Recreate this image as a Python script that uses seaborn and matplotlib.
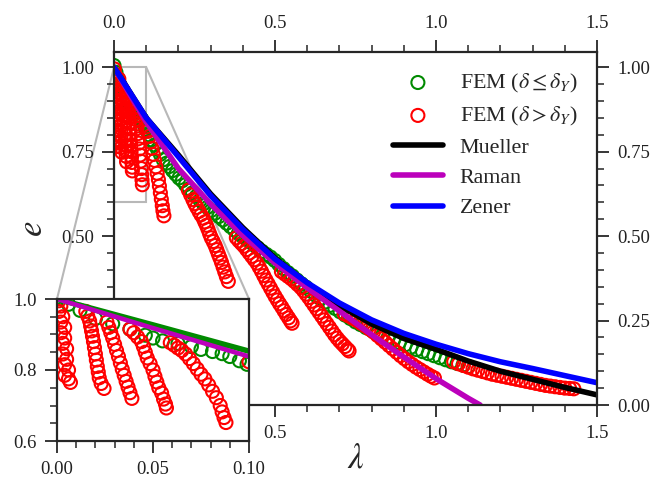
import numpy as np
import matplotlib
matplotlib.use('Agg')
import matplotlib.pyplot as plt
import seaborn as sns
from matplotlib.patches import Rectangle, ConnectionPatch
from matplotlib.ticker import MultipleLocator, FormatStrFormatter

# Modelos analiticos
mueller_lam = [0.0, 0.1, 0.2, 0.3, 0.4, 0.5, 0.6, 0.7, 0.8, 0.9, 1.0, 1.1, 1.2, 1.3, 1.4, 1.5]
mueller_e = [1.0, 0.85, 0.74, 0.625, 0.525, 0.435, 0.36, 0.295, 0.24, 0.197, 0.165, 0.13, 0.10, 0.076, 0.052, 0.03]

raman_lam = [0.0, 0.05, 0.1, 0.2, 0.3, 0.4, 0.5, 0.6, 0.7, 0.8, 0.9, 1.0, 1.1, 1.137]
raman_e = [1.0, 0.918, 0.838, 0.70, 0.595, 0.502, 0.42, 0.347, 0.278, 0.208, 0.142, 0.078, 0.02, 0.0]

zener_lam = [0.0, 0.1, 0.2, 0.3, 0.4, 0.5, 0.6, 0.7, 0.8, 0.9, 1.0, 1.1, 1.2, 1.3, 1.4, 1.5]
zener_e = [1.0, 0.85, 0.735, 0.62, 0.52, 0.432, 0.362, 0.302, 0.252, 0.212, 0.18, 0.152, 0.128, 0.108, 0.087, 0.066]

# linea verde del recuadro ampliado
inset_line_lam = [0.0, 0.05, 0.1]
inset_line_e = [1.0, 0.927, 0.853]

# FEM, delta <= delta_Y
green_lam = [0.000, 0.006, 0.012, 0.020, 0.029, 0.038, 0.046, 0.050, 0.055, 0.063, 0.070, 0.075, 0.081,
             0.086, 0.090, 0.095, 0.099, 0.108, 0.117, 0.126, 0.135, 0.144, 0.153, 0.163, 0.172, 0.182,
             0.192, 0.202, 0.212, 0.222, 0.233, 0.244, 0.256, 0.267, 0.278, 0.290, 0.302, 0.314, 0.326,
             0.338, 0.350, 0.362, 0.374, 0.386, 0.398, 0.410, 0.422, 0.434, 0.447, 0.460, 0.473, 0.486,
             0.499, 0.512, 0.526, 0.540, 0.554, 0.568, 0.582, 0.596, 0.611, 0.626, 0.641, 0.656, 0.671,
             0.686, 0.702, 0.718, 0.734, 0.750, 0.766, 0.783, 0.800, 0.817, 0.834, 0.851, 0.868, 0.886,
             0.904, 0.922, 0.940, 0.958, 0.976, 0.994, 1.012, 1.030, 1.048, 1.066, 1.084, 1.100]
green_e = [1.005, 0.985, 0.968, 0.945, 0.930, 0.915, 0.898, 0.890, 0.882, 0.875, 0.866, 0.858, 0.852,
           0.846, 0.838, 0.826, 0.816, 0.800, 0.785, 0.770, 0.757, 0.742, 0.726, 0.716, 0.706, 0.694,
           0.683, 0.672, 0.664, 0.652, 0.640, 0.628, 0.618, 0.606, 0.596, 0.585, 0.576, 0.568, 0.558,
           0.548, 0.538, 0.528, 0.518, 0.508, 0.500, 0.492, 0.484, 0.474, 0.465, 0.455, 0.446, 0.438,
           0.428, 0.416, 0.404, 0.392, 0.382, 0.370, 0.359, 0.349, 0.337, 0.325, 0.315, 0.305, 0.295,
           0.286, 0.276, 0.266, 0.256, 0.246, 0.238, 0.229, 0.221, 0.213, 0.206, 0.199, 0.192, 0.185,
           0.178, 0.171, 0.164, 0.158, 0.152, 0.146, 0.140, 0.134, 0.128, 0.123, 0.118, 0.114]

# FEM, delta > delta_Y (cadenas de puntos)
red_lam = [
    # A
    0.001, 0.002, 0.001, 0.003, 0.002, 0.004, 0.002, 0.004, 0.003, 0.005, 0.003, 0.005, 0.004, 0.006, 0.004, 0.006, 0.007,
    # B
    0.015, 0.016, 0.017, 0.0175, 0.018, 0.0185, 0.019, 0.0195, 0.020, 0.0205, 0.021, 0.0215, 0.022, 0.023, 0.0245,
    # C
    0.026, 0.027, 0.028, 0.029, 0.030, 0.031, 0.032, 0.033, 0.034, 0.035, 0.036, 0.037, 0.038, 0.039,
    # D
    0.038, 0.040, 0.042, 0.044, 0.045, 0.046, 0.047, 0.0485, 0.050, 0.051, 0.052, 0.053, 0.0545, 0.0555, 0.0565, 0.057,
    # E
    0.059, 0.061, 0.063, 0.065, 0.067, 0.069, 0.071, 0.073, 0.075, 0.077, 0.079, 0.081, 0.083, 0.085, 0.086, 0.087, 0.088,
    # F
    0.100, 0.105, 0.110, 0.114, 0.118, 0.122, 0.126, 0.130, 0.134, 0.138, 0.141, 0.144, 0.147, 0.150, 0.152, 0.155,
    # G
    0.231, 0.238, 0.245, 0.251, 0.257, 0.264, 0.270, 0.277, 0.282, 0.287, 0.292, 0.297, 0.302, 0.308, 0.314, 0.319,
    0.324, 0.329, 0.334, 0.339, 0.344, 0.349, 0.355,
    # H
    0.380, 0.388, 0.396, 0.404, 0.412, 0.420, 0.428, 0.436, 0.444, 0.451, 0.458, 0.465, 0.472, 0.479, 0.486, 0.493,
    0.500, 0.507, 0.514, 0.521, 0.528, 0.535, 0.542, 0.548, 0.553,
    # I
    0.520, 0.530, 0.540, 0.550, 0.560, 0.570, 0.580, 0.589, 0.597, 0.605, 0.613, 0.621, 0.629, 0.637, 0.645, 0.653,
    0.661, 0.669, 0.677, 0.685, 0.693, 0.701, 0.709, 0.717, 0.725, 0.730,
    # J
    0.715, 0.728, 0.741, 0.754, 0.767, 0.780, 0.793, 0.806, 0.818, 0.830, 0.842, 0.854, 0.866, 0.878, 0.890, 0.902,
    0.914, 0.926, 0.938, 0.950, 0.962, 0.974, 0.985, 0.995,
    # K
    1.055, 1.070, 1.085, 1.100, 1.115, 1.130, 1.145, 1.160, 1.175, 1.190, 1.205, 1.220, 1.235, 1.250, 1.265, 1.280,
    1.295, 1.310, 1.325, 1.340, 1.355, 1.370, 1.385, 1.400, 1.415, 1.428,
]
red_e = [
    0.995, 0.980, 0.965, 0.950, 0.935, 0.920, 0.905, 0.890, 0.875, 0.860, 0.845, 0.830, 0.815, 0.800, 0.785, 0.775, 0.765,
    0.965, 0.952, 0.938, 0.924, 0.910, 0.895, 0.880, 0.863, 0.845, 0.828, 0.810, 0.794, 0.778, 0.762, 0.748,
    0.935, 0.920, 0.905, 0.890, 0.872, 0.855, 0.838, 0.820, 0.802, 0.785, 0.768, 0.752, 0.736, 0.720,
    0.915, 0.905, 0.893, 0.880, 0.866, 0.850, 0.834, 0.818, 0.800, 0.782, 0.766, 0.750, 0.735, 0.718, 0.704, 0.693,
    0.877, 0.870, 0.862, 0.855, 0.845, 0.832, 0.818, 0.803, 0.788, 0.775, 0.758, 0.740, 0.722, 0.700, 0.682, 0.666, 0.652,
    0.823, 0.810, 0.795, 0.778, 0.760, 0.742, 0.724, 0.705, 0.686, 0.667, 0.648, 0.628, 0.609, 0.590, 0.575, 0.560,
    0.636, 0.622, 0.608, 0.596, 0.585, 0.573, 0.563, 0.553, 0.542, 0.532, 0.520, 0.507, 0.495, 0.484, 0.472, 0.460,
    0.447, 0.435, 0.422, 0.408, 0.394, 0.380, 0.366,
    0.495, 0.486, 0.478, 0.470, 0.460, 0.450, 0.440, 0.430, 0.420, 0.408, 0.396, 0.383, 0.370, 0.358, 0.346, 0.334,
    0.322, 0.311, 0.300, 0.290, 0.279, 0.268, 0.258, 0.249, 0.242,
    0.395, 0.388, 0.381, 0.374, 0.366, 0.357, 0.348, 0.338, 0.328, 0.318, 0.307, 0.296, 0.285, 0.274, 0.263, 0.252,
    0.241, 0.230, 0.219, 0.208, 0.198, 0.189, 0.181, 0.173, 0.165, 0.160,
    0.270, 0.264, 0.257, 0.250, 0.242, 0.234, 0.225, 0.216, 0.206, 0.196, 0.186, 0.176, 0.166, 0.156, 0.146, 0.137,
    0.128, 0.120, 0.112, 0.105, 0.098, 0.091, 0.085, 0.080,
    0.128, 0.122, 0.117, 0.112, 0.107, 0.103, 0.099, 0.095, 0.091, 0.088, 0.085, 0.082, 0.079, 0.076, 0.073, 0.070,
    0.067, 0.064, 0.061, 0.058, 0.056, 0.054, 0.052, 0.050, 0.049, 0.048,
]

sns.set_style('ticks')
plt.rcParams['font.family'] = ['Liberation Serif', 'DejaVu Serif']
plt.rcParams['mathtext.fontset'] = 'stix'

GREEN = '#008a00'
RED = '#ff0000'
MAGENTA = '#bb00bb'
BLUE = '#0000ff'
GRAY = '#b8b8b8'
TXT = '#222222'

fig = plt.figure(figsize=(6.54, 4.78), dpi=100)
ax = fig.add_axes([114 / 654, 1 - 405 / 478, (597 - 114) / 654, (405 - 52) / 478])
ax.patch.set_alpha(0)

scat_kw = dict(s=88, facecolor='none', linewidth=1.5, marker='o')
sns.scatterplot(x=green_lam, y=green_e, ax=ax, edgecolor=GREEN, label=r'FEM ($\delta\leq\delta_Y$)', **scat_kw)
sns.scatterplot(x=red_lam, y=red_e, ax=ax, edgecolor=RED, label=r'FEM ($\delta>\delta_Y$)', **scat_kw)
sns.lineplot(x=mueller_lam, y=mueller_e, ax=ax, color='black', lw=4, label='Mueller', estimator=None)
sns.lineplot(x=raman_lam, y=raman_e, ax=ax, color=MAGENTA, lw=4, label='Raman', estimator=None)
sns.lineplot(x=zener_lam, y=zener_e, ax=ax, color=BLUE, lw=4, label='Zener', estimator=None)

ax.add_patch(Rectangle((0, 0.6), 0.1, 0.4, fill=False, ec=GRAY, lw=1.5, zorder=0.5))

ax.set_xlim(0, 1.5)
ax.set_ylim(0, 1.045)
ax.xaxis.set_major_locator(MultipleLocator(0.5))
ax.xaxis.set_minor_locator(MultipleLocator(0.1))
ax.yaxis.set_major_locator(MultipleLocator(0.25))
ax.yaxis.set_minor_locator(MultipleLocator(0.05))
ax.xaxis.set_major_formatter(FormatStrFormatter('%.1f'))
ax.yaxis.set_major_formatter(FormatStrFormatter('%.2f'))
ax.tick_params(which='both', direction='out', top=True, right=True, labeltop=True, labelright=True,
               labelsize=13.5, labelcolor=TXT, pad=6)
ax.tick_params(which='major', length=8.5, width=1.3)
ax.tick_params(which='minor', length=4.7, width=1.1)
for sp in ax.spines.values():
    sp.set_visible(True)
    sp.set_linewidth(1.6)
ax.set_xlabel(r'$\lambda$', fontsize=25, labelpad=0)
ax.set_ylabel(r'$e$', fontsize=25, labelpad=8)

leg = ax.legend(loc='upper right', frameon=False, fontsize=15.8, handlelength=2.3,
                labelspacing=0.45, borderaxespad=0.5, borderpad=0.4, handletextpad=0.75,
                scatterpoints=1)

# recuadro ampliado
axins = fig.add_axes([57 / 654, 1 - 441 / 478, (249 - 57) / 654, (441 - 299) / 478])
axins.set_facecolor('white')
sns.scatterplot(x=green_lam, y=green_e, ax=axins, edgecolor=GREEN, legend=False, **scat_kw)
sns.scatterplot(x=red_lam, y=red_e, ax=axins, edgecolor=RED, legend=False, **scat_kw)
sns.lineplot(x=inset_line_lam, y=inset_line_e, ax=axins, color=GREEN, lw=4, estimator=None, legend=False)
sns.lineplot(x=raman_lam, y=raman_e, ax=axins, color=MAGENTA, lw=3.3, estimator=None, legend=False)
axins.set_xlim(0, 0.1)
axins.set_ylim(0.6, 1.0)
axins.xaxis.set_major_locator(MultipleLocator(0.05))
axins.xaxis.set_minor_locator(MultipleLocator(0.01))
axins.yaxis.set_major_locator(MultipleLocator(0.2))
axins.yaxis.set_minor_locator(MultipleLocator(0.05))
axins.xaxis.set_major_formatter(FormatStrFormatter('%.2f'))
axins.yaxis.set_major_formatter(FormatStrFormatter('%.1f'))
axins.tick_params(which='both', direction='out', labelsize=13.5, labelcolor=TXT, pad=6)
axins.tick_params(which='major', length=8.5, width=1.3)
axins.tick_params(which='minor', length=4.7, width=1.1)
for sp in axins.spines.values():
    sp.set_visible(True)
    sp.set_linewidth(1.6)
axins.set_xlabel('')
axins.set_ylabel('')

# lineas de conexion
for xa, xb in [(0.0, 0.0), (0.1, 1.0)]:
    cp = ConnectionPatch(xyA=(xa, 1.0), coordsA=ax.transData, xyB=(xb, 1.0), coordsB=axins.transAxes,
                         color=GRAY, lw=1.5, zorder=-1)
    fig.add_artist(cp)

fig.savefig('out.png', dpi=100)
